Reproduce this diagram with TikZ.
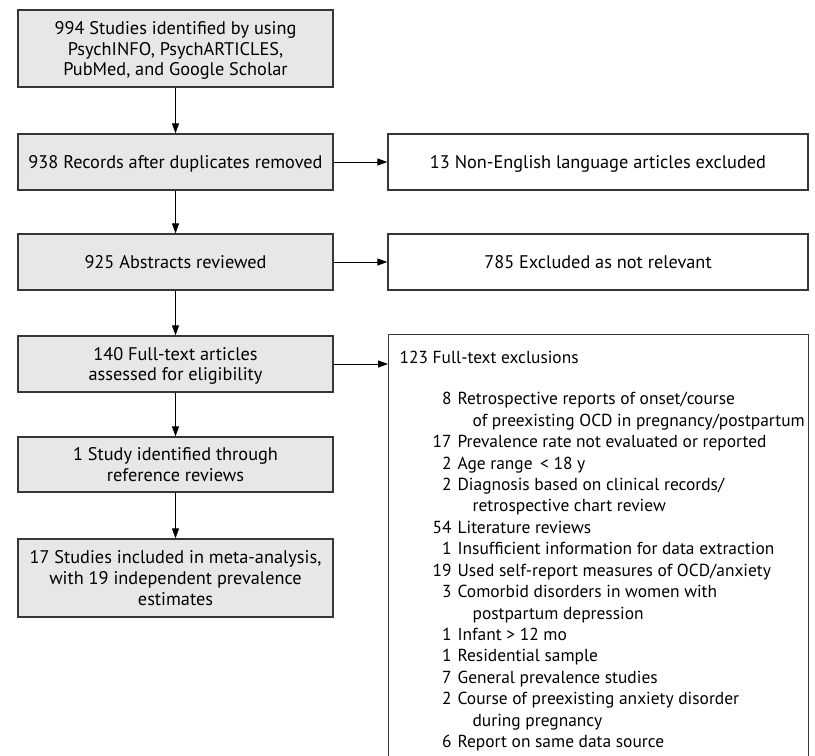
\documentclass[tikz,border=0pt]{standalone}
\usepackage{fontspec}
\setmainfont{PT Sans}
\usetikzlibrary{arrows.meta}
\usetikzlibrary{positioning}
\definecolor{boxgray}{RGB}{230,231,232}
\definecolor{edgegray}{RGB}{55,55,55}

\tikzset
  {
    stageBox/.style=    {draw=edgegray, line width=1.3pt, fill=boxgray, minimum width=315pt, align=center, inner sep=0pt, text depth=0pt, font=\fontsize{18.3}{20.6}\selectfont},
    exclBox/.style=     {draw=edgegray, line width=1.3pt, fill=white, minimum width=420pt, align=center, inner sep=0pt, font=\fontsize{18.3}{20.6}\selectfont},
    exclLine/.style=    {exclBox, minimum height=56pt, text depth=0pt},
    flowArrow/.style=   {-{Triangle[length=10pt,width=7pt]}, line width=1pt, black}
  }

\begin{document}
\begin{tikzpicture}[x=1pt, y=-1pt]

\useasboundingbox (0,0) rectangle (815,756);

% left column
\node[stageBox, minimum height=77pt] (found) at (175.5,48.5)
{994 Studies identified by using\\PsychINFO, PsychARTICLES,\\PubMed, and Google Scholar};
\node[stageBox, minimum height=56pt] (dedup) at (175.5,162)
{938 Records after duplicates removed};
\node[stageBox, minimum height=56pt] (abstr) at (175.5,262)
{925 Abstracts reviewed};
\node[stageBox, minimum height=56pt] (fulltext) at (175.5,364)
{140 Full-text articles\\assessed for eligibility};
\node[stageBox, minimum height=55pt] (refrev) at (175.5,464.5)
{1 Study identified through\\reference reviews};
\node[stageBox, minimum height=78pt] (incl) at (175.5,578)
{17 Studies included in meta-analysis,\\with 19 independent prevalence\\estimates};

% right column
\node[exclLine] (nonengl) at (598,162)
{13 Non-English language articles excluded};
\node[exclLine] (notrel) at (598,262)
{785 Excluded as not relevant};

\node[exclBox, anchor=north west, align=left, inner xsep=11pt, inner ysep=14pt] (ftexcl) at (388,334)
{\parbox[t][420pt][t]{398pt}{\fontsize{17.4}{21.44}\selectfont
\begin{tabular}[t]{@{\hspace{33pt}}r@{\hspace{6pt}}l@{}}
\multicolumn{2}{@{}l@{}}{123 Full-text exclusions}\\[19.6pt]
8 & Retrospective reports of onset/course\\
  & \hspace{15pt}of preexisting OCD in pregnancy/postpartum\\
17 & Prevalence rate not evaluated or reported\\
2 & Age range \,< 18 y\\
2 & Diagnosis based on clinical records/\\
  & \hspace{15pt}retrospective chart review\\
54 & Literature reviews\\
1 & Insufficient information for data extraction\\
19 & Used self-report measures of OCD/anxiety\\
3 & Comorbid disorders in women with\\
  & \hspace{15pt}postpartum depression\\
1 & Infant > 12 mo\\
1 & Residential sample\\
7 & General prevalence studies\\
2 & Course of preexisting anxiety disorder\\
  & \hspace{15pt}during pregnancy\\
6 & Report on same data source\\
\end{tabular}}};

% arrows
\draw[flowArrow] (found) -- (dedup);
\draw[flowArrow] (dedup) -- (abstr);
\draw[flowArrow] (abstr) -- (fulltext);
\draw[flowArrow] (fulltext) -- (refrev);
\draw[flowArrow] (refrev) -- (incl);

\draw[flowArrow] (dedup) -- (nonengl);
\draw[flowArrow] (abstr) -- (notrel);
\draw[flowArrow] (fulltext.east) -- (fulltext.east -| ftexcl.west);

\end{tikzpicture}
\end{document}
